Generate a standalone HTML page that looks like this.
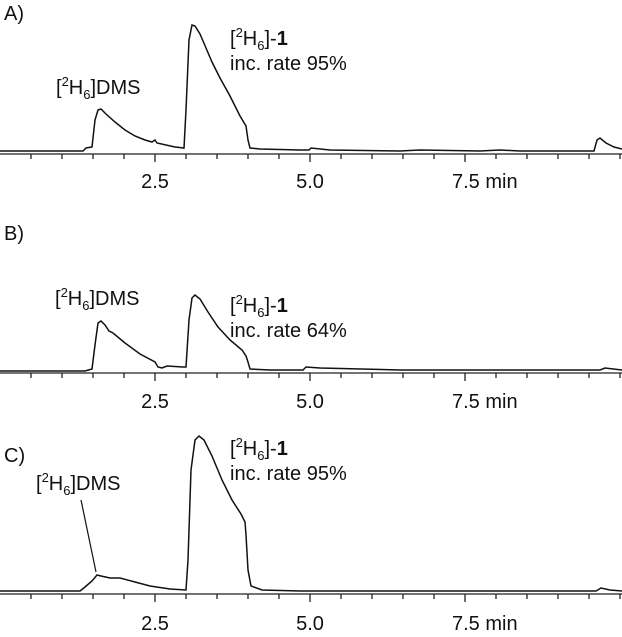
<!DOCTYPE html><html><head><style>body{margin:0;background:#fff}svg{display:block}text{font-family:"Liberation Sans",Arial,sans-serif;font-size:20px;fill:#111}</style></head><body>
<svg width="622" height="637" viewBox="0 0 622 637">
<defs><g id="ax" stroke="#222" stroke-width="1.3">
<line x1="0" y1="0" x2="622" y2="0"/>
<path d="M31,0v5M62,0v5M93,0v5M124,0v5M155,0v8M186,0v5M217,0v5M248,0v5M279,0v5M310,0v8M341,0v5M372,0v5M403,0v5M434,0v5M465,0v8M496,0v5M527,0v5M558,0v5M589,0v5M620,0v5"/></g></defs>
<g fill="none" stroke="#111" stroke-width="1.5">
<use href="#ax" y="154"/><use href="#ax" y="373"/><use href="#ax" y="594"/>
<path d="M0,151 L83,151 L86,148 L92,147 L95,120 L98,110 L101,109 L106,114 L115,122 L125,130 L135,136 L145,140 L152,142 L155,140 L157,143 L175,147 L184,148 L186,110 L189,40 L192,25 L195,26 L200,34 L206,48 L212,62 L220,78 L230,96 L240,116 L246,126 L248,140 L250,148 L260,149 L300,150 L309,150 L311,148 L330,150 L400,151 L420,150 L480,151 L500,150 L520,151 L594,151 L597,140 L600,138 L606,143 L614,147 L622,149"/>
<path d="M0,371 L85,371 L92,369 L95,345 L98,323 L101,321 L105,325 L109,331 L113,333 L125,343 L140,354 L155,362 L158,367 L162,368 L167,366 L183,367 L186,367 L189,320 L192,298 L195,295 L200,299 L208,312 L218,327 L230,340 L242,350 L246,356 L248,362 L250,369 L270,370 L303,370 L306,367 L320,368 L400,370 L600,370 L605,368 L622,370"/>
<path d="M0,591 L80,591 L85,587 L92,581 L97,575 L101,576 L110,578 L120,578 L135,582 L150,586 L170,589 L186,590 L188,560 L191,470 L195,440 L199,436 L204,440 L212,456 L222,480 L232,500 L241,514 L245,522 L246,535 L248,570 L251,586 L262,590 L300,591 L596,591 L601,588 L610,590 L622,591"/>
<line x1="81" y1="500" x2="96" y2="572" stroke-width="1.2"/>
</g>
<text x="4" y="20">A)</text><text x="4" y="240">B)</text><text x="4" y="462">C)</text>
<text x="56" y="94">[<tspan font-size="13" dy="-8">2</tspan><tspan dy="8">H</tspan><tspan font-size="13" dy="5">6</tspan><tspan dy="-5">]DMS</tspan></text>
<text x="55" y="305">[<tspan font-size="13" dy="-8">2</tspan><tspan dy="8">H</tspan><tspan font-size="13" dy="5">6</tspan><tspan dy="-5">]DMS</tspan></text>
<text x="36" y="490">[<tspan font-size="13" dy="-8">2</tspan><tspan dy="8">H</tspan><tspan font-size="13" dy="5">6</tspan><tspan dy="-5">]DMS</tspan></text>
<text x="230" y="45">[<tspan font-size="13" dy="-8">2</tspan><tspan dy="8">H</tspan><tspan font-size="13" dy="5">6</tspan><tspan dy="-5">]-</tspan><tspan font-weight="bold">1</tspan></text>
<text x="230" y="70">inc. rate 95%</text>
<text x="230" y="312">[<tspan font-size="13" dy="-8">2</tspan><tspan dy="8">H</tspan><tspan font-size="13" dy="5">6</tspan><tspan dy="-5">]-</tspan><tspan font-weight="bold">1</tspan></text>
<text x="230" y="337">inc. rate 64%</text>
<text x="230" y="455">[<tspan font-size="13" dy="-8">2</tspan><tspan dy="8">H</tspan><tspan font-size="13" dy="5">6</tspan><tspan dy="-5">]-</tspan><tspan font-weight="bold">1</tspan></text>
<text x="230" y="480">inc. rate 95%</text>
<g text-anchor="middle"><text x="155" y="188">2.5</text><text x="310" y="188">5.0</text>
<text x="155" y="408">2.5</text><text x="310" y="408">5.0</text>
<text x="155" y="630">2.5</text><text x="310" y="630">5.0</text></g>
<text x="452" y="188">7.5 min</text><text x="452" y="408">7.5 min</text><text x="452" y="630">7.5 min</text>
</svg></body></html>
